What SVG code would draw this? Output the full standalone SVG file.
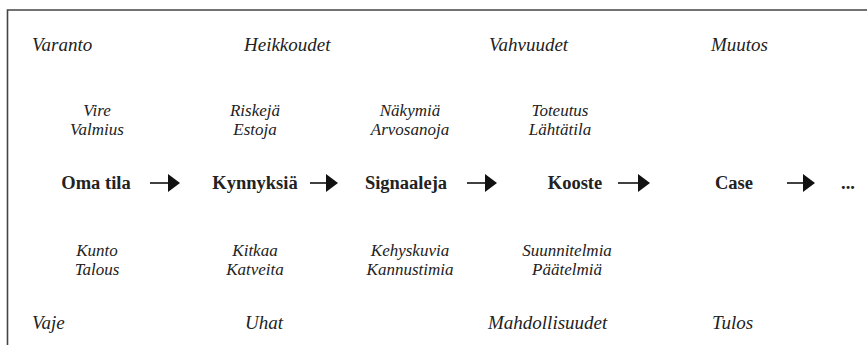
<svg xmlns="http://www.w3.org/2000/svg" width="867" height="345" viewBox="0 0 867 345">
<style>
.hd{font-family:"Liberation Serif","Times New Roman",serif;font-style:italic;font-size:19px;fill:#222}
.it{font-family:"Liberation Serif","Times New Roman",serif;font-style:italic;font-size:17px;fill:#222;text-anchor:middle}
.bd{font-family:"Liberation Serif","Times New Roman",serif;font-weight:bold;font-size:18.5px;fill:#222;text-anchor:middle}
.frame{stroke:#444;stroke-width:1.6;fill:none}
.con{stroke:#111;stroke-width:1.6;fill:none}
</style>
<defs>
<marker id="ah" markerUnits="userSpaceOnUse" markerWidth="12" markerHeight="18" refX="1" refY="9" orient="auto">
<path d="M0,0 L12,9 L0,18 Z" fill="#111"/>
</marker>
</defs>
<rect width="867" height="345" fill="#fff"/>
<path class="frame" d="M7.5,345 V10 H867"/>
<g id="headers">
<text class="hd" x="32" y="51">Varanto</text>
<text class="hd" x="244" y="51">Heikkoudet</text>
<text class="hd" x="489" y="51">Vahvuudet</text>
<text class="hd" x="711" y="51">Muutos</text>
<text class="hd" x="32" y="329">Vaje</text>
<text class="hd" x="245" y="329">Uhat</text>
<text class="hd" x="488" y="329">Mahdollisuudet</text>
<text class="hd" x="712" y="329">Tulos</text>
</g>
<g id="node-omatila">
<text class="it" x="97" y="116">Vire</text>
<text class="it" x="97" y="135">Valmius</text>
<text class="bd" x="96" y="189">Oma tila</text>
<text class="it" x="97" y="256">Kunto</text>
<text class="it" x="97" y="275">Talous</text>
</g>
<g id="node-kynnyksia">
<text class="it" x="255" y="116">Riskejä</text>
<text class="it" x="255" y="135">Estoja</text>
<text class="bd" x="255" y="189">Kynnyksiä</text>
<text class="it" x="255" y="256">Kitkaa</text>
<text class="it" x="255" y="275">Katveita</text>
</g>
<g id="node-signaaleja">
<text class="it" x="410" y="116">Näkymiä</text>
<text class="it" x="410" y="135">Arvosanoja</text>
<text class="bd" x="406" y="189">Signaaleja</text>
<text class="it" x="410" y="256">Kehyskuvia</text>
<text class="it" x="410" y="275">Kannustimia</text>
</g>
<g id="node-kooste">
<text class="it" x="560" y="116">Toteutus</text>
<text class="it" x="560" y="135">Lähtätila</text>
<text class="bd" x="575" y="189">Kooste</text>
<text class="it" x="567" y="256">Suunnitelmia</text>
<text class="it" x="567" y="275">Päätelmiä</text>
</g>
<g id="node-case">
<text class="bd" x="734" y="189">Case</text>
</g>
<g id="node-more">
<text class="bd" x="848" y="189">...</text>
</g>
<g id="connectors">
<line class="con" x1="150" y1="183" x2="169" y2="183" marker-end="url(#ah)"/>
<line class="con" x1="310" y1="183" x2="327" y2="183" marker-end="url(#ah)"/>
<line class="con" x1="467" y1="183" x2="486" y2="183" marker-end="url(#ah)"/>
<line class="con" x1="618" y1="183" x2="639" y2="183" marker-end="url(#ah)"/>
<line class="con" x1="787" y1="183" x2="804" y2="183" marker-end="url(#ah)"/>
</g>
</svg>
